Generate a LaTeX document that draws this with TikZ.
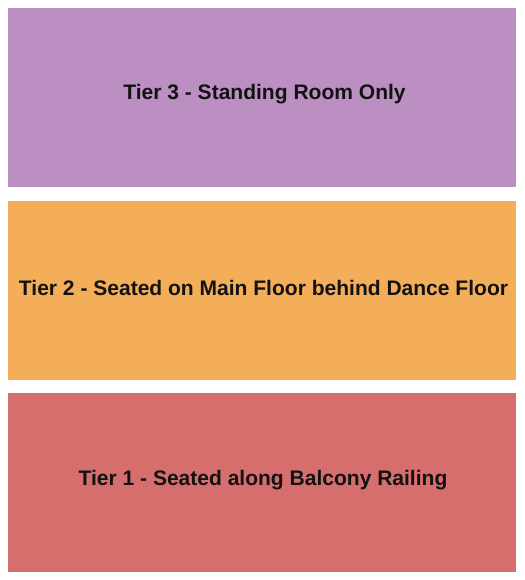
\documentclass[tikz,border=0pt]{standalone}
\usepackage{fontspec}
\setmainfont{Liberation Sans}
\usetikzlibrary{positioning}
\definecolor{tierthree}{RGB}{188,143,194}
\definecolor{tiertwo}{RGB}{244,174,90}
\definecolor{tierone}{RGB}{214,110,110}
\tikzset{
  tier/.style={minimum width=508bp, minimum height=179bp, inner sep=0pt, outer sep=0pt},
  tiername/.style={anchor=base, inner sep=0pt, text=black!93,
    font=\fontsize{21.1}{25}\selectfont\bfseries}
}
\begin{document}
\begin{tikzpicture}[x=1bp, y=1bp]
    \useasboundingbox (0,0) rectangle (525,580);
    \node (tier3) [tier, fill=tierthree] at (262,482.5) {};
    \node (tier2) [tier, fill=tiertwo, below=14bp of tier3] {};
    \node (tier1) [tier, fill=tierone, below=13bp of tier2] {};

    % names sit a little above the middle of each block
    \node (tier3 name) [tiername, xshift=2.5bp, yshift=-2.5bp] at (tier3.center) {Tier 3 - Standing Room Only};
    \node (tier2 name) [tiername, xshift=1.5bp, yshift=-5.5bp] at (tier2.center) {Tier 2 - Seated on Main Floor behind Dance Floor};
    \node (tier1 name) [tiername, xshift=1bp, yshift=-2.5bp] at (tier1.center) {Tier 1 - Seated along Balcony Railing};
\end{tikzpicture}
\end{document}
